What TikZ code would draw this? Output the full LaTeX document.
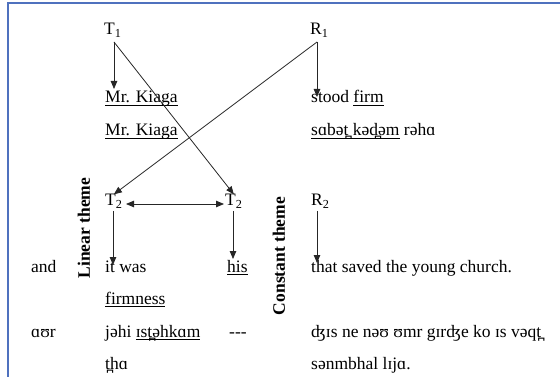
\documentclass[tikz,border=0pt]{standalone}
\usepackage{fontspec}
\setmainfont{Liberation Serif}
\usetikzlibrary{arrows.meta}
\definecolor{framecol}{RGB}{79,113,190}
\newcommand\myul[1]{{\setbox0\hbox{#1}\rlap{\rule[-2.6pt]{\wd0}{0.8pt}}\box0}}
\begin{document}
\begin{tikzpicture}[x=1pt,y=-1pt,
  txt/.style={anchor=base west,inner sep=0pt,font=\fontsize{17.5}{20}\selectfont},
  vlab/.style={rotate=90,inner sep=0pt,font=\fontsize{17.5}{20}\selectfont\bfseries},
  tip/.tip={Triangle[length=8pt,width=6.5pt]},
  con/.style={draw=black!85,line width=0.8pt,-tip},
  frame/.style={draw=framecol,line width=1.8pt}]
\useasboundingbox (0,0) rectangle (560,377);
\coordinate (ftop) at (560,3);
\coordinate (fcorner) at (8,3);
\coordinate (fbot) at (8,377);
\draw[frame] (ftop) -- (fcorner) -- (fbot);

\node[txt] (T1) at (104,35) {T\textsubscript{1}};
\node[txt] (R1) at (310,35) {R\textsubscript{1}};
\node[txt] (mk1) at (105,103) {\myul{Mr. Kiaga}};
\node[txt] (mk2) at (105,136) {\myul{Mr. Kiaga}};
\node[txt] (sf) at (311,103) {stood \myul{firm}};
\node[txt] (sk) at (311,136) {\myul{sɑbət̪ kəd̪əm} rəhɑ};
\node[txt] (T2a) at (105,206) {T\textsubscript{2}};
\node[txt] (T2b) at (225,206) {T\textsubscript{2}};
\node[txt] (R2) at (311,206) {R\textsubscript{2}};
\node[vlab] (lin) at (84,228) {Linear theme};
\node[vlab] (cst) at (279,256) {Constant theme};
\node[txt] (and) at (31,272) {and};
\node[txt] (itw) at (105,272) {it was};
\node[txt] (his) at (227,272) {\myul{his}};
\node[txt] (tsc) at (311,272) {that saved the young church.};
\node[txt] (frm) at (105,304) {\myul{firmness}};
\node[txt] (aur) at (31,337) {ɑʊr};
\node[txt] (jhi) at (105,337) {jəhi \myul{ɪst̪əhkɑm}};
\node[txt] (dsh) at (229,337) {-{}-{}-};
\node[txt] (djs) at (311,337) {ʤɪs ne nəʊ ʊmr gɪrʤe ko ɪs vəqt̪};
\node[txt] (tha) at (105,369) {t̪hɑ};
\node[txt] (snm) at (311,369) {sənmbhal lɪjɑ.};

\coordinate (t1s) at (114,42);
\coordinate (r1s) at (317,42);
\coordinate (t1e) at (114,89);
\coordinate (r1e) at (317,97);
\draw[con] (t1s) -- (t1e);
\draw[con] (t1s) -- (T2b.north);
\draw[con] (r1s) -- (r1e);
\draw[con] (r1s) -- (T2a.north);
\coordinate (da) at (126,204);
\coordinate (db) at (224,204);
\draw[con,tip-tip] (da) -- (db);
\coordinate (t2as) at (113,211);
\coordinate (t2bs) at (233,211);
\coordinate (r2s) at (317,211);
\coordinate (t2ae) at (113,265);
\coordinate (t2be) at (233,259);
\coordinate (r2e) at (317,263);
\draw[con] (t2as) -- (t2ae);
\draw[con] (t2bs) -- (t2be);
\draw[con] (r2s) -- (r2e);
\end{tikzpicture}
\end{document}
